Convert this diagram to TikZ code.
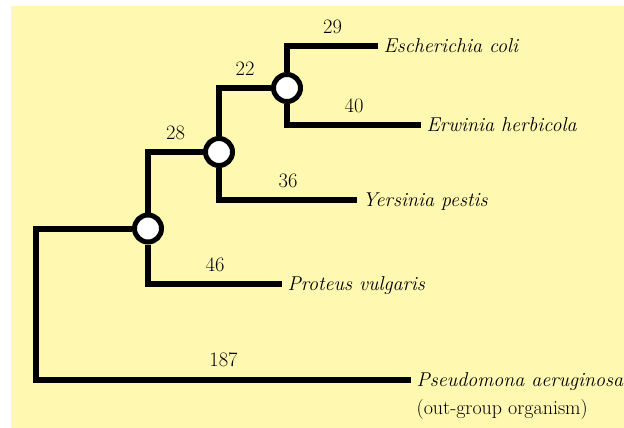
\documentclass[tikz,border=0pt]{standalone}
\usepackage{fontspec}
\definecolor{bgyellow}{RGB}{255,248,176}
\begin{document}
\begin{tikzpicture}[x=1pt,y=-1pt,
  branch/.style={line width=6pt, line join=miter, line cap=butt},
  junction/.style={circle, draw, line width=5pt, fill=white, minimum size=27pt, inner sep=0pt},
  dist/.style={font=\fontsize{20.5}{24}\selectfont, inner sep=0pt, anchor=south, yshift=9.5pt},
  leaf/.style={font=\fontsize{20}{28}\selectfont\itshape, inner sep=0pt, anchor=base west, xshift=5.5pt, yshift=-6.5pt, align=left}]
\useasboundingbox (0,0) rectangle (624,428);
\fill[bgyellow] (11,6) rectangle (624,428);
% junctions
\node[junction] (A) at (148,228.5) {};
\node[junction] (B) at (219,152) {};
\node[junction] (C) at (287,88) {};
% leaf ends
\coordinate (og) at (36,228.5);
\coordinate (pseudEnd) at (411,379.5);
\coordinate (protEnd) at (282,284);
\coordinate (yersEnd) at (357,200);
\coordinate (ecoliEnd) at (378,46.5);
\coordinate (erwEnd) at (421,125);
% leaf labels
\node[leaf, yshift=-28pt] (pseud) at (pseudEnd) {Pseudomona aeruginosa\\\upshape(out-group organism)};
\node[leaf] (prot) at (protEnd) {Proteus vulgaris};
\node[leaf] (yers) at (yersEnd) {Yersinia pestis};
\node[leaf] (ecoli) at (ecoliEnd) {Escherichia coli};
\node[leaf] (erw) at (erwEnd) {Erwinia herbicola};
% branches
\draw[branch] (A) -- (og) |- (pseudEnd) node[dist, pos=0.75] {187};
\draw[branch] (A) |- (protEnd) node[dist, pos=0.75] {46};
\draw[branch] (A) |- (B) node[dist, pos=0.75] {28};
\draw[branch] (B) |- (yersEnd) node[dist, pos=0.75] {36};
\draw[branch] (B) |- (C) node[dist, pos=0.75] {22};
\draw[branch] (C) |- (ecoliEnd) node[dist, pos=0.75] {29};
\draw[branch] (C) |- (erwEnd) node[dist, pos=0.75] {40};
\end{tikzpicture}
\end{document}
